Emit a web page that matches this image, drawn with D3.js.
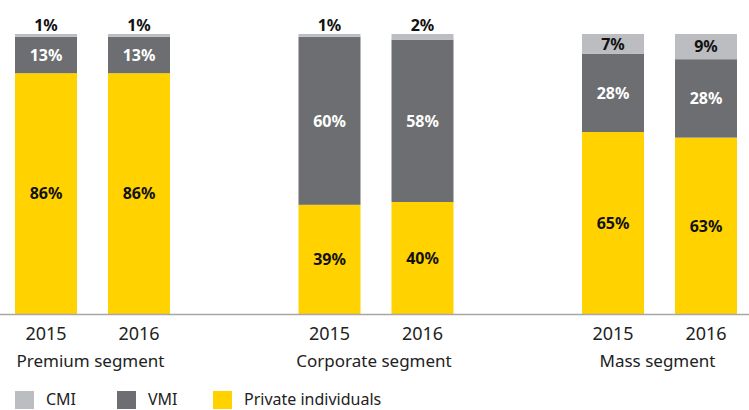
<!DOCTYPE html>
<html>
<head>
<meta charset="utf-8">
<script src="https://cdn.jsdelivr.net/npm/d3@7"></script>
<style>
  body { margin: 0; background: #fff; }
  svg { display: block; font-family: "Noto Sans", "Open Sans", sans-serif; }
</style>
</head>
<body>
<div id="chart"></div>
<script>
// data ----------------------------------------------------------------------
const segments = ['Premium segment', 'Corporate segment', 'Mass segment'];
const years = ['2015', '2016'];
const series = ['CMI', 'VMI', 'Private individuals'];
// values per segment, per year (order of years)
const cmi = [[1, 1], [1, 2], [7, 9]];
const vmi = [[13, 13], [60, 58], [28, 28]];
const privateInd = [[86, 86], [39, 40], [65, 63]];

const colors = {'CMI': '#bcbdc0', 'VMI': '#6d6e71', 'Private individuals': '#ffd200'};
const textColor = {'CMI': '#111', 'VMI': '#fff', 'Private individuals': '#111'};

// layout ----------------------------------------------------------------------
const width = 749;
const height = 410;
const svg = d3.select('#chart').append('svg')
  .attr('width', width)
  .attr('height', height);

const x0 = d3.scalePoint().domain(segments).range([92.5, 659.5]);
const x1 = d3.scaleBand().domain(years).range([-77.5, 77.5]).paddingInner(1 / 3);
const y = d3.scaleLinear().domain([0, 100]).range([314, 34]);

// build stacked rows
const rows = [];
segments.forEach((s, si) => {
  years.forEach((yr, yi) => {
    rows.push({segment: s, year: yr, 'Private individuals': privateInd[si][yi], 'VMI': vmi[si][yi], 'CMI': cmi[si][yi]});
  });
});
const stack = d3.stack().keys(['Private individuals', 'VMI', 'CMI']);
const stacked = stack(rows);

const barX = d => x0(d.data.segment) + x1(d.data.year);

// bars ------------------------------------------------------------------------
const layer = svg.append('g').selectAll('g')
  .data(stacked)
  .enter().append('g')
  .attr('fill', d => colors[d.key]);

layer.selectAll('rect')
  .data(d => d.map(v => Object.assign(v, {key: d.key})))
  .enter().append('rect')
  .attr('x', barX)
  .attr('y', d => y(d[1]))
  .attr('width', x1.bandwidth())
  .attr('height', d => y(d[0]) - y(d[1]));

// labels ----------------------------------------------------------------------
layer.selectAll('text')
  .data(d => d)
  .enter().append('text')
  .attr('x', d => barX(d) + x1.bandwidth() / 2)
  .attr('y', d => {
    const v = d[1] - d[0];
    if (d.key === 'CMI' && v < 5) return y(d[1]) - 9;
    return (y(d[0]) + y(d[1])) / 2;
  })
  .attr('dy', '0.36em')
  .attr('text-anchor', 'middle')
  .attr('font-size', '16px')
  .attr('font-weight', 'bold')
  .attr('fill', d => textColor[d.key])
  .text(d => (d[1] - d[0]) + '%');

// axis line -------------------------------------------------------------------
svg.append('line')
  .attr('x1', 0).attr('x2', width)
  .attr('y1', y(0) + 0.5).attr('y2', y(0) + 0.5)
  .attr('stroke', '#a7a7a7')
  .attr('stroke-width', 1.5);

// year ticks
const yearG = svg.append('g');
segments.forEach(s => {
  years.forEach(yr => {
    yearG.append('text')
      .attr('x', x0(s) + x1(yr) + x1.bandwidth() / 2)
      .attr('y', 340)
      .attr('text-anchor', 'middle')
      .attr('font-size', '18px')
      .attr('fill', '#222')
      .text(yr);
  });
});

// segment names
svg.append('g').selectAll('text')
  .data(segments)
  .enter().append('text')
  .attr('x', d => x0(d) - 2)
  .attr('y', 367)
  .attr('text-anchor', 'middle')
  .attr('font-size', '17px')
  .attr('fill', '#222')
  .text(d => d);

// legend ----------------------------------------------------------------------
const legendX = [15, 117, 213];
const legend = svg.append('g').selectAll('g')
  .data(series)
  .enter().append('g')
  .attr('transform', (d, i) => 'translate(' + legendX[i] + ',391)');
legend.append('rect')
  .attr('width', 19)
  .attr('height', 18)
  .attr('fill', d => colors[d]);
legend.append('text')
  .attr('x', 31)
  .attr('y', 14)
  .attr('font-size', '16px')
  .attr('fill', '#222')
  .text(d => d);
</script>
</body>
</html>
